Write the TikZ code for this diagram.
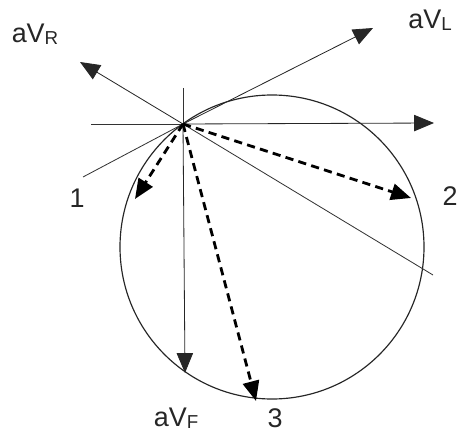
\documentclass[tikz,border=0pt]{standalone}
\usepackage{fontspec}
\setmainfont{Liberation Sans}
\usetikzlibrary{arrows.meta}

\begin{document}
\begin{tikzpicture}[x=0.03cm, y=-0.03cm, >={Triangle[length=17pt, width=14pt]},
  axis/.style={draw=black!80, line width=0.7pt},
  vec/.style={->, draw=black!85, line width=0.7pt},
  dvec/.style={->, draw=black, line width=2.4pt, dash pattern=on 7pt off 4.5pt},
  lbl/.style={font=\fontsize{23}{26}\selectfont, inner sep=0pt, text=black!85}]
\useasboundingbox (0,0) rectangle (458,432);
\coordinate (O) at (183,124);
\coordinate (C) at (272,247);
\coordinate (xl) at (91,124);
\coordinate (xr) at (434,123);
\coordinate (yt) at (183,88);
\coordinate (yb) at (185,373);
\coordinate (Rt) at (80,62);
\coordinate (Re) at (433,275);
\coordinate (Lt) at (373,28);
\coordinate (Le) at (83,177);
\coordinate (p1) at (135,199);
\coordinate (p2) at (411,198);
\coordinate (p3) at (256,401);
\draw[line width=1pt, black!85] (C) circle (152);
\draw[axis] (xl) -- (O);
\draw[vec] (O) -- (xr);
\draw[axis] (yt) -- (O);
\draw[vec] (O) -- (yb);
\draw[vec] (O) -- (Rt);
\draw[axis] (O) -- (Re);
\draw[vec] (O) -- (Lt);
\draw[axis] (O) -- (Le);
\draw[dvec] (O) -- (p1);
\draw[dvec] (O) -- (p2);
\draw[dvec] (O) -- (p3);
\node[lbl] (aVR) at (35,34) {aV{\fontsize{16}{18}\selectfont\raisebox{-2pt}{R}}};
\node[lbl] (aVL) at (430,20) {aV{\fontsize{16}{18}\selectfont\raisebox{-2pt}{L}}};
\node[lbl] (aVF) at (176,418) {aV{\fontsize{16}{18}\selectfont\raisebox{-2pt}{F}}};
\node[lbl] (n1) at (77,198) {1};
\node[lbl] (n2) at (450,196) {2};
\node[lbl] (n3) at (275,418) {3};
\end{tikzpicture}
\end{document}
